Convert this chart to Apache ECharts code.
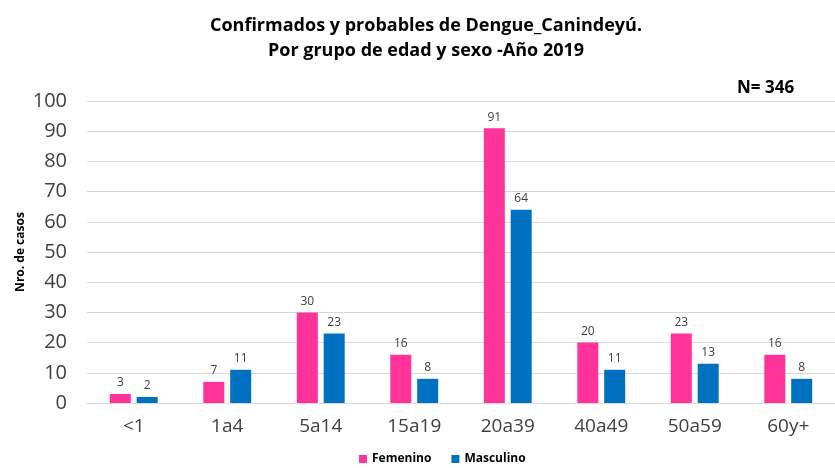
<!DOCTYPE html>
<html><head><meta charset="utf-8">
<script src="https://cdn.jsdelivr.net/npm/echarts@6/dist/echarts.min.js"></script>
<style>html,body{margin:0;padding:0;background:#fff}#c{width:835px;height:468px}</style>
</head><body><div id="c"></div>
<script>
const categories = ['<1','1a4','5a14','15a19','20a39','40a49','50a59','60y+'];
const femenino = [3,7,30,16,91,20,23,16];
const masculino = [2,11,23,8,64,11,13,8];
const yTicks = {min:0, max:100, interval:10};
const FONT = '"Open Sans","Noto Sans",sans-serif';
const chart = echarts.init(document.getElementById('c'));
const lbl = {show:true, position:'top', color:'#404040', fontSize:12, fontFamily:FONT, distance:5};
chart.setOption({
  animation:false,
  title:[{text:'Confirmados y probables de Dengue_Canindeyú.\nPor grupo de edad y sexo -Año 2019', left:421, textAlign:'center', top:8,
    textStyle:{fontFamily:FONT, fontWeight:'bold', fontSize:18, lineHeight:25, color:'#000'}},
    {text:'N= 346', left:732, top:75, textStyle:{fontFamily:FONT, fontWeight:'bold', fontSize:17, color:'#000'}}],
  legend:{bottom:-2, left:354, itemWidth:8, itemHeight:8, itemGap:20, icon:'rect',
    textStyle:{fontFamily:FONT, fontWeight:'bold', fontSize:12, color:'#000'}},
  grid:{left:87, top:101, width:757, height:302},
  xAxis:{type:'category', data:categories, axisTick:{show:false}, axisLine:{lineStyle:{color:'#D9D9D9'}},
    axisLabel:{fontFamily:FONT, fontSize:19, color:'#404040', margin:14}},
  yAxis:{type:'value', min:yTicks.min, max:yTicks.max, interval:yTicks.interval,
    name:'Nro. de casos', nameLocation:'middle', nameGap:60, nameMoveOverlap:false,
    nameTextStyle:{fontFamily:FONT, fontWeight:'bold', fontSize:12, color:'#000'},
    axisLabel:{fontFamily:FONT, fontSize:20, color:'#404040', margin:20},
    splitLine:{lineStyle:{color:'#D9D9D9'}}},
  series:[
    {name:'Femenino', type:'bar', data:femenino, barWidth:21, barGap:'28%', itemStyle:{color:'#FF3399'}, label:lbl},
    {name:'Masculino', type:'bar', data:masculino, barWidth:21, itemStyle:{color:'#0070C0'}, label:lbl}
  ]
});
</script></body></html>
